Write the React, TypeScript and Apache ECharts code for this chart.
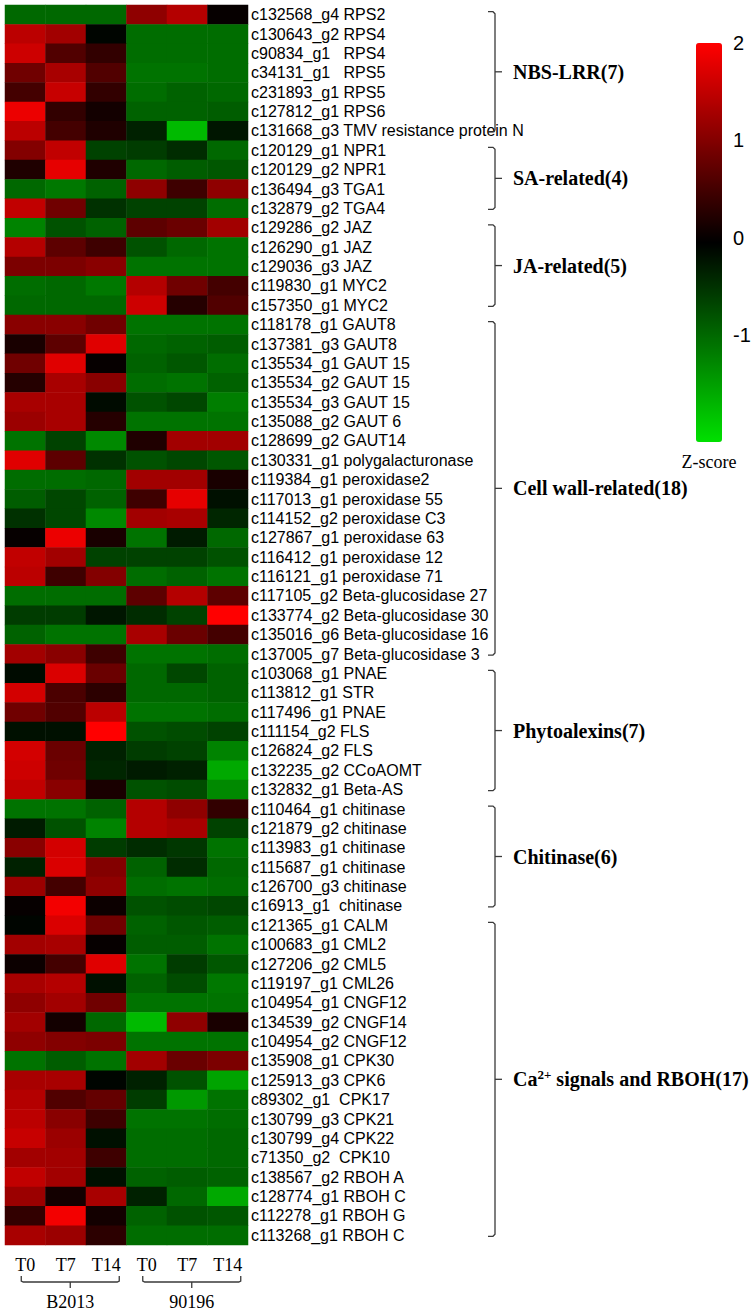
import React, { useEffect, useRef } from 'react';
import * as echarts from 'echarts';

const columns = ['T0', 'T7', 'T14', 'T0', 'T7', 'T14'];

const genes = [
  'c132568_g4 RPS2', 'c130643_g2 RPS4', 'c90834_g1   RPS4', 'c34131_g1   RPS5', 'c231893_g1 RPS5',
  'c127812_g1 RPS6', 'c131668_g3 TMV resistance protein N',
  'c120129_g1 NPR1', 'c120129_g2 NPR1', 'c136494_g3 TGA1', 'c132879_g2 TGA4',
  'c129286_g2 JAZ', 'c126290_g1 JAZ', 'c129036_g3 JAZ', 'c119830_g1 MYC2', 'c157350_g1 MYC2',
  'c118178_g1 GAUT8', 'c137381_g3 GAUT8', 'c135534_g1 GAUT 15', 'c135534_g2 GAUT 15', 'c135534_g3 GAUT 15',
  'c135088_g2 GAUT 6', 'c128699_g2 GAUT14', 'c130331_g1 polygalacturonase', 'c119384_g1 peroxidase2',
  'c117013_g1 peroxidase 55', 'c114152_g2 peroxidase C3', 'c127867_g1 peroxidase 63', 'c116412_g1 peroxidase 12',
  'c116121_g1 peroxidase 71', 'c117105_g2 Beta-glucosidase 27', 'c133774_g2 Beta-glucosidase 30',
  'c135016_g6 Beta-glucosidase 16', 'c137005_g7 Beta-glucosidase 3',
  'c103068_g1 PNAE', 'c113812_g1 STR', 'c117496_g1 PNAE', 'c111154_g2 FLS', 'c126824_g2 FLS',
  'c132235_g2 CCoAOMT', 'c132832_g1 Beta-AS',
  'c110464_g1 chitinase', 'c121879_g2 chitinase', 'c113983_g1 chitinase', 'c115687_g1 chitinase',
  'c126700_g3 chitinase', 'c16913_g1  chitinase',
  'c121365_g1 CALM', 'c100683_g1 CML2', 'c127206_g2 CML5', 'c119197_g1 CML26', 'c104954_g1 CNGF12',
  'c134539_g2 CNGF14', 'c104954_g2 CNGF12', 'c135908_g1 CPK30', 'c125913_g3 CPK6', 'c89302_g1  CPK17',
  'c130799_g3 CPK21', 'c130799_g4 CPK22', 'c71350_g2  CPK10', 'c138567_g2 RBOH A', 'c128774_g1 RBOH C',
  'c112278_g1 RBOH G', 'c113268_g1 RBOH C',
];

// Z-scores: B2013 T0, T7, T14, 90196 T0, T7, T14
const zScores: number[][] = [
  [-1.0, -1.0, -1.0, 1.1, 1.4, 0.0],
  [1.45, 1.25, -0.1, -1.05, -1.05, -1.05],
  [1.6, 0.6, 0.35, -1.05, -1.05, -1.05],
  [0.85, 1.3, 0.6, -1.1, -1.1, -1.05],
  [0.5, 1.55, 0.35, -1.05, -0.95, -1.0],
  [1.85, 0.35, 0.1, -0.95, -0.95, -0.9],
  [1.45, 0.5, 0.2, -0.35, -1.75, -0.25],
  [1.0, 1.5, -0.65, -0.6, -0.45, -1.0],
  [0.2, 1.8, 0.2, -1.0, -0.9, -0.85],
  [-1.0, -1.15, -0.95, 1.1, 0.45, 1.1],
  [1.5, 0.85, -0.5, -0.65, -0.65, -1.05],
  [-1.25, -0.8, -0.95, 0.7, 0.8, 1.25],
  [1.4, 0.7, 0.45, -0.8, -1.0, -1.1],
  [0.95, 0.95, 1.05, -1.1, -1.1, -1.1],
  [-1.05, -1.0, -1.15, 1.4, 0.85, 0.5],
  [-1.0, -1.0, -1.0, 1.6, 0.25, 0.6],
  [1.05, 1.05, 0.85, -1.1, -1.1, -1.1],
  [0.15, 0.7, 1.75, -1.0, -0.95, -0.9],
  [0.85, 1.75, 0.0, -0.95, -0.85, -1.05],
  [0.25, 1.3, 1.05, -1.05, -1.1, -0.95],
  [1.3, 1.3, -0.15, -0.8, -0.7, -1.2],
  [1.2, 1.3, 0.25, -1.1, -1.1, -1.1],
  [-1.1, -0.65, -1.3, 0.2, 1.25, 1.25],
  [1.75, 0.7, -0.5, -0.8, -0.7, -0.85],
  [-1.05, -1.05, -1.0, 1.25, 1.25, 0.15],
  [-0.9, -0.7, -0.95, 0.45, 1.8, -0.2],
  [-0.5, -0.7, -1.3, 1.25, 1.3, -0.4],
  [0.0, 1.85, 0.15, -1.1, -0.3, -1.0],
  [1.5, 1.25, -0.65, -0.65, -0.65, -0.8],
  [1.45, 0.45, 1.0, -1.05, -0.95, -1.1],
  [-1.05, -1.05, -1.05, 0.7, 1.4, 0.7],
  [-0.6, -0.6, -0.25, -0.45, -0.65, 2.0],
  [-0.95, -1.1, -1.1, 1.3, 0.8, 0.5],
  [1.25, 1.05, 0.45, -1.1, -1.1, -1.05],
  [-0.15, 1.7, 0.8, -1.0, -0.7, -0.95],
  [1.65, 0.55, 0.3, -1.0, -1.0, -0.95],
  [0.85, 0.6, 1.45, -1.1, -1.1, -1.05],
  [-0.2, -0.2, 2.0, -0.8, -0.75, -0.65],
  [1.65, 0.8, -0.35, -0.6, -0.65, -1.25],
  [1.6, 0.85, -0.4, -0.3, -0.35, -1.6],
  [1.5, 1.05, 0.15, -0.8, -0.75, -1.3],
  [-1.1, -1.1, -0.95, 1.4, 1.1, 0.35],
  [-0.3, -0.8, -1.25, 1.4, 1.3, -0.65],
  [1.05, 1.65, -0.6, -0.45, -0.55, -1.1],
  [-0.35, 1.7, 1.0, -0.95, -0.45, -1.0],
  [1.2, 0.5, 1.1, -1.05, -1.1, -1.05],
  [0.0, 1.9, 0.05, -0.8, -0.75, -0.7],
  [-0.1, 1.7, 0.85, -0.95, -0.85, -0.9],
  [1.25, 1.3, 0.0, -0.9, -0.9, -1.1],
  [0.05, 0.5, 1.75, -1.1, -0.6, -0.85],
  [1.3, 1.4, -0.2, -0.95, -0.75, -1.15],
  [1.1, 1.25, 0.85, -1.1, -1.1, -1.1],
  [1.25, 0.1, -1.0, -1.75, 1.1, 0.15],
  [1.1, 1.0, 0.95, -1.1, -1.1, -1.1],
  [-1.1, -0.9, -1.1, 1.25, 0.8, 0.95],
  [1.3, 1.3, -0.1, -0.35, -0.8, -1.55],
  [1.4, 0.6, 0.75, -0.6, -1.45, -1.1],
  [1.45, 1.05, 0.45, -1.1, -1.1, -1.05],
  [1.55, 1.2, -0.2, -1.05, -1.05, -1.0],
  [1.25, 1.25, 0.45, -1.05, -1.05, -1.0],
  [1.5, 1.25, -0.2, -0.95, -0.9, -0.95],
  [1.2, 0.1, 1.3, -0.35, -1.0, -1.6],
  [0.35, 1.9, 0.1, -0.95, -0.8, -0.85],
  [1.3, 1.2, 0.3, -1.05, -1.05, -1.05],
];

const rowGroups = [
  { name: 'NBS-LRR(7)', start: 0, end: 6 },
  { name: 'SA-related(4)', start: 7, end: 10 },
  { name: 'JA-related(5)', start: 11, end: 15 },
  { name: 'Cell wall-related(18)', start: 16, end: 33 },
  { name: 'Phytoalexins(7)', start: 34, end: 40 },
  { name: 'Chitinase(6)', start: 41, end: 46 },
  { name: 'Ca2+ signals and RBOH(17)', start: 47, end: 63 },
];

const colGroups = [
  { name: 'B2013', start: 0, end: 2 },
  { name: '90196', start: 3, end: 5 },
];

const colorTicks = [-1, 0, 1, 2];
const zMin = -2.1;
const zMax = 2.0;
const colorStops = ['#00e000', '#000000', '#ff0000'];

const BRACKET = '#3a3a3a';

function richName(name: string) {
  const i = name.indexOf('2+');
  if (i < 0) return `{n|${name}}`;
  return `{n|${name.slice(0, i)}}{s|2+}{n|${name.slice(i + 2)}}`;
}

export default function App() {
  const ref = useRef<HTMLDivElement>(null);
  useEffect(() => {
    if (!ref.current) return;
    const chart = echarts.init(ref.current, undefined, { renderer: 'svg' });
    const heatData: number[][] = [];
    zScores.forEach((row, i) => row.forEach((v, j) => heatData.push([j, i, v])));

    chart.setOption({
      animation: false,
      backgroundColor: '#ffffff',
      grid: [
        { left: 5, top: 5, width: 243, height: 1240 },
        { left: 696, top: 43, width: 26, height: 399 },
      ],
      xAxis: [
        {
          type: 'category', gridIndex: 0, data: columns, position: 'bottom',
          axisLine: { show: false }, axisTick: { show: false }, splitLine: { show: false },
          axisLabel: { interval: 0, margin: 11, fontSize: 18, fontFamily: 'Liberation Serif', color: '#000' },
        },
        {
          type: 'value', gridIndex: 1, min: 0, max: 1,
          axisLine: { show: false }, axisTick: { show: false }, axisLabel: { show: false }, splitLine: { show: false },
          name: 'Z-score', nameLocation: 'middle', nameGap: 11,
          nameTextStyle: { fontFamily: 'Liberation Serif', fontSize: 18, color: '#000', verticalAlign: 'top' },
        },
      ],
      yAxis: [
        {
          type: 'category', gridIndex: 0, data: genes, inverse: true, position: 'right',
          axisLine: { show: false }, axisTick: { show: false }, splitLine: { show: false },
          axisLabel: { interval: 0, margin: 3, fontSize: 16, fontFamily: 'Liberation Sans', color: '#000' },
        },
        {
          type: 'value', gridIndex: 1, min: zMin, max: zMax, position: 'right',
          axisLine: { show: false }, axisTick: { show: false }, splitLine: { show: false },
          axisLabel: { customValues: colorTicks, margin: 11, fontSize: 20, fontFamily: 'Liberation Sans', color: '#000' },
        },
      ],
      visualMap: {
        type: 'continuous', show: true, seriesIndex: 0, min: zMin, max: zMax,
        left: 696, top: 43, itemWidth: 26, itemHeight: 399, padding: 0,
        calculable: false, hoverLink: false, text: null,
        inRange: { color: colorStops },
      },
      series: [
        {
          type: 'heatmap', xAxisIndex: 0, yAxisIndex: 0, data: heatData,
          itemStyle: { borderWidth: 0 }, emphasis: { disabled: true },
          progressive: 0,
        },
        {
          type: 'custom', xAxisIndex: 0, yAxisIndex: 0, clip: false, silent: true,
          data: rowGroups.map((g) => [0, g.start]),
          renderItem: (params: any, api: any) => {
            const g = rowGroups[params.dataIndex];
            const cs = params.coordSys;
            const yTop = api.coord([0, g.start])[1] - 3;
            const yBot = api.coord([0, g.end])[1] + 1;
            const yMid = (yTop + yBot) / 2;
            const xl = cs.x + cs.width + 247;
            const ls = { stroke: BRACKET, lineWidth: 1.3, fill: null };
            return {
              type: 'group',
              children: [
                {
                  type: 'polyline',
                  shape: { points: [[xl - 7, yTop], [xl - 2, yTop], [xl, yTop + 2], [xl, yBot - 2], [xl - 2, yBot], [xl - 7, yBot]] },
                  style: ls,
                },
                { type: 'line', shape: { x1: xl, y1: yMid, x2: xl + 7, y2: yMid }, style: ls },
                {
                  type: 'text', x: xl + 18, y: yMid,
                  style: {
                    text: richName(g.name), align: 'left', verticalAlign: 'middle', fill: '#000',
                    rich: {
                      n: { fontFamily: 'Liberation Serif', fontWeight: 'bold', fontSize: 20, lineHeight: 22, fill: '#000' },
                      s: { fontFamily: 'Liberation Serif', fontWeight: 'bold', fontSize: 13, lineHeight: 13, verticalAlign: 'top', fill: '#000' },
                    },
                  },
                },
              ],
            };
          },
        },
        {
          type: 'custom', xAxisIndex: 0, yAxisIndex: 0, clip: false, silent: true,
          data: colGroups.map((g) => [g.start, 0]),
          renderItem: (params: any, api: any) => {
            const g = colGroups[params.dataIndex];
            const cs = params.coordSys;
            const x0 = api.coord([g.start, 0])[0] - 4;
            const x1 = api.coord([g.end, 0])[0] + 13;
            const xm = (x0 + x1) / 2;
            const y = cs.y + cs.height + 37;
            const ls = { stroke: BRACKET, lineWidth: 1.3, fill: null };
            return {
              type: 'group',
              children: [
                {
                  type: 'polyline',
                  shape: { points: [[x0, y - 6], [x0, y - 1], [x0 + 2, y], [x1 - 2, y], [x1, y - 1], [x1, y - 6]] },
                  style: ls,
                },
                { type: 'line', shape: { x1: xm, y1: y, x2: xm, y2: y + 6 }, style: ls },
                {
                  type: 'text', x: xm, y: y + 20,
                  style: {
                    text: g.name, align: 'center', verticalAlign: 'middle', fill: '#000',
                    fontFamily: 'Liberation Serif', fontSize: 18,
                  },
                },
              ],
            };
          },
        },
      ],
    });
    return () => chart.dispose();
  }, []);
  return <div ref={ref} style={{ position: 'absolute', left: 0, top: 0, width: 756, height: 1313 }} />;
}
